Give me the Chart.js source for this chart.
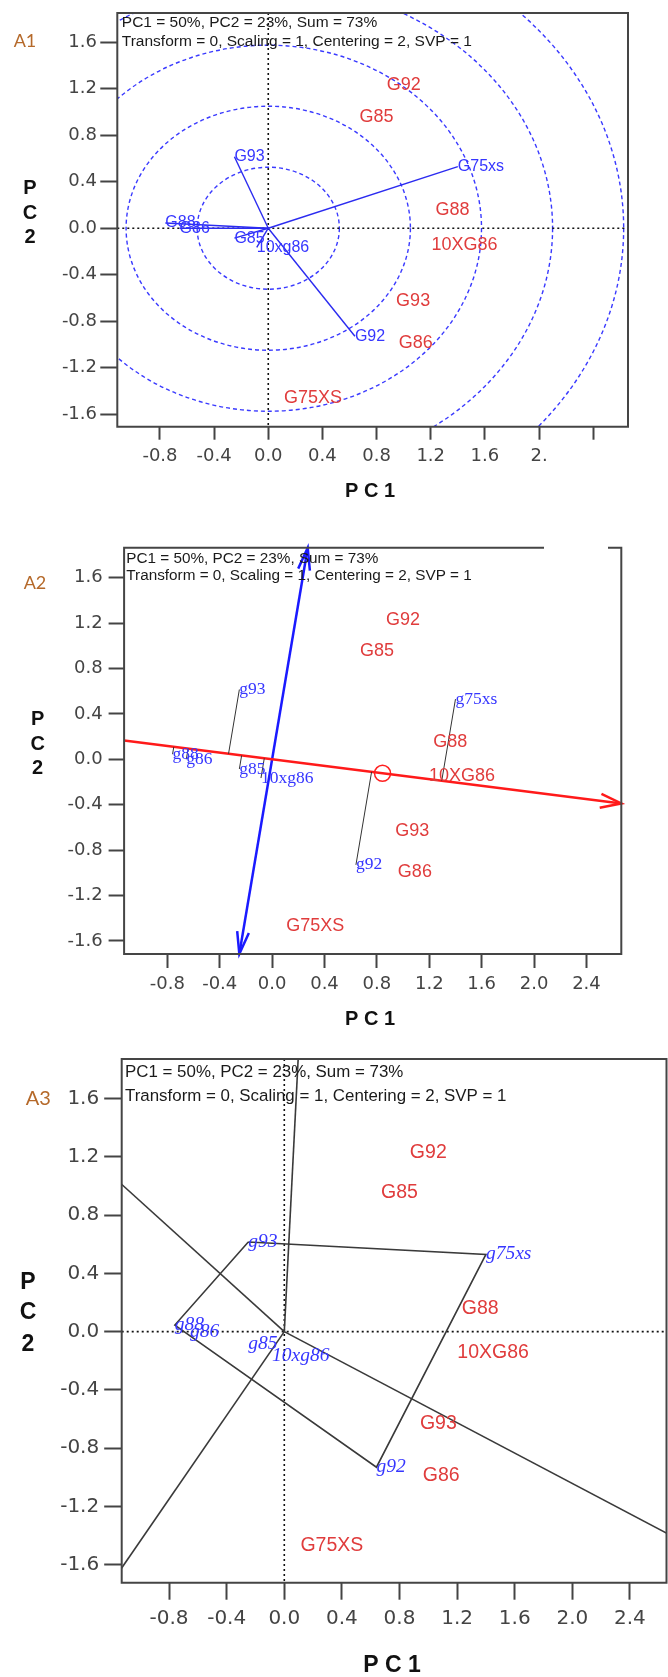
<!DOCTYPE html>
<html><head><meta charset="utf-8">
<script src="https://cdn.jsdelivr.net/npm/chart.js@4.4.0/dist/chart.umd.min.js"></script>
<style>
html,body{margin:0;padding:0;background:#fff;}
body{width:668px;height:1677px;position:relative;overflow:hidden;}
canvas{position:absolute;left:0;display:block;}
</style></head><body>
<canvas id="c1" width="668" height="520" style="top:0px"></canvas>
<canvas id="c2" width="668" height="520" style="top:520px"></canvas>
<canvas id="c3" width="668" height="637" style="top:1040px"></canvas>
<script>
// ---------- DATA ----------
const genotypes = ['G92','G85','G88','10XG86','G93','G86','G75XS'];
const genoPC1 = [1.00, 0.80, 1.36, 1.45, 1.07, 1.09, 0.33];
const genoPC2 = [1.23, 0.955, 0.155, -0.145, -0.63, -0.99, -1.465];

const envNamesA1 = ['G75xs','G93','G92','G88','G86','G85','10xg86'];
const envNames   = ['g75xs','g93','g92','g88','g86','g85','10xg86'];
const envPC1 = [1.40, -0.25, 0.64, -0.76, -0.655, -0.25, -0.085];
const envPC2 = [0.53, 0.615, -0.93, 0.045, 0.0, -0.085, -0.165];

const meanEnvPC1 = 0.843, meanEnvPC2 = -0.123;   // average environment (A2)
const circleRadii = [0.525, 1.05, 1.575, 2.10, 2.625]; // A1 concentric circles
const hullOrder = ['g93','g75xs','g92','g88'];         // A3 polygon vertices

const xTicks = [-0.8,-0.4,0,0.4,0.8,1.2,1.6,2.0,2.4];
const yTicks = [-1.6,-1.2,-0.8,-0.4,0,0.4,0.8,1.2,1.6];
const xTickLabelsA1 = ['-0.8','-0.4','0.0','0.4','0.8','1.2','1.6','2.',''];
const xTickLabels   = ['-0.8','-0.4','0.0','0.4','0.8','1.2','1.6','2.0','2.4'];
const yTickLabels   = ['-1.6','-1.2','-0.8','-0.4','0.0','0.4','0.8','1.2','1.6'];
const headerLines = ['PC1 = 50%, PC2 = 23%, Sum = 73%','Transform = 0, Scaling = 1, Centering = 2, SVP = 1'];
const pc1Title = 'P C 1';
const pc2Letters = ['P','C','2'];

// ---------- LAYOUT / STYLE ----------
const RED = '#e03c3c', BLUE = '#3636ff';
const PANELS = [
 { id:'c1', tag:'A1', height:520, area:{l:117.3,r:628,t:13,b:426.7},
   xr:[-1.115,2.657], yr:[-1.708,1.852], xLabels:xTickLabelsA1,
   tick:{font:18, ylen:17, xlen:13, ypad:3.3, xpad:6},
   txt:{head:15.5, hdx:4.5, hdy:[9.7,28.7], tagX:25, tagY:41, tagSize:18, pc2X:30, pc2Y:[188,213,237], title:20, pc1X:370, pc1Y:491.7},
   genoFont:'18px "Liberation Sans"', envFont:'16px "Liberation Sans"', envLabels:envNamesA1 },
 { id:'c2', tag:'A2', height:520, area:{l:124.1,r:621.3,t:27.7,b:434},
   xr:[-1.13,2.666], yr:[-1.715,1.864], xLabels:xTickLabels,
   tick:{font:18, ylen:15.5, xlen:14, ypad:6, xpad:6},
   txt:{head:15.3, hdx:2.2, hdy:[10.6,28.3], tagX:35, tagY:63, tagSize:18, pc2X:37.6, pc2Y:[199,224,248], title:20, pc1X:370, pc1Y:499.3},
   genoFont:'18px "Liberation Sans"', envFont:'17.5px "Liberation Serif"', envLabels:envNames, gap:[77.3,13.3] },
 { id:'c3', tag:'A3', height:637, area:{l:121.7,r:666.5,t:19,b:542.7},
   xr:[-1.129,2.654], yr:[-1.722,1.870], xLabels:xTickLabels,
   tick:{font:20, ylen:17.5, xlen:17, ypad:5, xpad:7},
   txt:{head:16.9, hdx:3.3, hdy:[13.3,37], tagX:38.3, tagY:59, tagSize:20, pc2X:28, pc2Y:[243,273,305], title:23, pc1X:392, pc1Y:626},
   genoFont:'19.5px "Liberation Sans"', envFont:'italic 19.5px "Liberation Serif"', envLabels:envNames }
];

function scalesFor(p){
  const fit = isX => s => {
    if (isX) s.height = p.height - p.area.b; else s.width = p.area.l;
    s.paddingLeft = 0; s.paddingRight = 0; s.paddingTop = 0; s.paddingBottom = 0;
  };
  const tf = {family:'DejaVu Sans', size:p.tick.font};
  return {
    x:{type:'linear', position:'bottom', min:p.xr[0], max:p.xr[1],
       afterBuildTicks:s=>{s.ticks = xTicks.map(v=>({value:v}));},
       afterFit:fit(true),
       ticks:{callback:(v,i)=>p.xLabels[i], font:tf, color:'#444', padding:p.tick.xpad, maxRotation:0, minRotation:0, autoSkip:false},
       grid:{drawOnChartArea:false, drawTicks:true, tickLength:p.tick.xlen, tickWidth:2, tickColor:'#444', color:'#444'},
       border:{display:false}},
    y:{type:'linear', position:'left', min:p.yr[0], max:p.yr[1],
       afterBuildTicks:s=>{s.ticks = yTicks.map(v=>({value:v}));},
       afterFit:fit(false),
       ticks:{callback:(v,i)=>yTickLabels[i], font:tf, color:'#444', padding:p.tick.ypad, autoSkip:false},
       grid:{drawOnChartArea:false, drawTicks:true, tickLength:p.tick.ylen, tickWidth:2, tickColor:'#444', color:'#444'},
       border:{display:false}}
  };
}

function pluginsFor(p, opts){
  return [
   { id:'underlay', beforeDatasetsDraw(chart){
       const ctx = chart.ctx, a = chart.chartArea, xs = chart.scales.x, ys = chart.scales.y;
       ctx.save();
       ctx.beginPath(); ctx.rect(a.left, a.top, a.right-a.left, a.bottom-a.top); ctx.clip();
       if (opts.circles){
         const cx = xs.getPixelForValue(0), cy = ys.getPixelForValue(0);
         ctx.strokeStyle = '#3a3aff'; ctx.lineWidth = 1.4; ctx.setLineDash([4,3]);
         circleRadii.forEach(r=>{
           const rx = xs.getPixelForValue(r)-cx, ry = cy-ys.getPixelForValue(r);
           ctx.beginPath(); ctx.ellipse(cx, cy, rx, ry, 0, 0, Math.PI*2); ctx.stroke();
         });
       }
       if (opts.zeroLines){
         const x0 = xs.getPixelForValue(0), y0 = ys.getPixelForValue(0);
         ctx.strokeStyle = '#111'; ctx.lineWidth = 1.6; ctx.setLineDash([2,3]);
         ctx.beginPath(); ctx.moveTo(x0, a.top); ctx.lineTo(x0, a.bottom);
         ctx.moveTo(a.left, y0); ctx.lineTo(a.right, y0); ctx.stroke();
       }
       ctx.restore();
   }},
   { id:'overlay', afterDatasetsDraw(chart){
       const ctx = chart.ctx, a = chart.chartArea;
       ctx.save();
       // arrowheads
       chart.data.datasets.forEach((ds,i)=>{
         if(!ds.arrows) return;
         const pts = chart.getDatasetMeta(i).data, s = pts[0], e = pts[pts.length-1];
         ds.arrows.forEach(end=>{
           const tip = end==='end'?e:s, from = end==='end'?s:e;
           const th = Math.atan2(tip.y-from.y, tip.x-from.x), L = ds.arrowLen, ph = ds.arrowAngle;
           ctx.strokeStyle = ds.borderColor; ctx.lineWidth = ds.borderWidth; ctx.setLineDash([]);
           ctx.beginPath();
           ctx.moveTo(tip.x - L*Math.cos(th-ph), tip.y - L*Math.sin(th-ph));
           ctx.lineTo(tip.x, tip.y);
           ctx.lineTo(tip.x - L*Math.cos(th+ph), tip.y - L*Math.sin(th+ph));
           ctx.stroke();
         });
       });
       // point labels
       chart.data.datasets.forEach((ds,i)=>{
         if(!ds.labelText) return;
         const meta = chart.getDatasetMeta(i);
         ctx.font = ds.labelFont; ctx.fillStyle = ds.labelColor; ctx.textAlign = ds.labelAlign; ctx.textBaseline = 'middle';
         meta.data.forEach((el,j)=>ctx.fillText(ds.labelText[j], el.x, el.y));
       });
       // frame
       ctx.strokeStyle = '#454545'; ctx.lineWidth = 2; ctx.setLineDash([]);
       ctx.beginPath();
       if (p.gap){
         ctx.moveTo(a.right - p.gap[1], a.top); ctx.lineTo(a.right, a.top); ctx.lineTo(a.right, a.bottom);
         ctx.lineTo(a.left, a.bottom); ctx.lineTo(a.left, a.top); ctx.lineTo(a.right - p.gap[0], a.top);
       } else { ctx.rect(a.left, a.top, a.right-a.left, a.bottom-a.top); }
       ctx.stroke();
       ctx.restore();
   }},
   { id:'panelText', afterDraw(chart){
       const ctx = chart.ctx, a = chart.chartArea, t = p.txt;
       ctx.save();
       ctx.textBaseline = 'middle'; ctx.textAlign = 'left'; ctx.fillStyle = '#1a1a1a';
       ctx.font = t.head + 'px "Liberation Sans"';
       headerLines.forEach((s,i)=>ctx.fillText(s, a.left + t.hdx, a.top + t.hdy[i]));
       ctx.textAlign = 'center';
       ctx.fillStyle = '#b5692a'; ctx.font = t.tagSize + 'px Lato';
       ctx.fillText(p.tag, t.tagX, t.tagY);
       ctx.fillStyle = '#111'; ctx.font = 'bold ' + t.title + 'px "Liberation Sans"';
       pc2Letters.forEach((s,i)=>ctx.fillText(s, t.pc2X, t.pc2Y[i]));
       ctx.fillText(pc1Title, t.pc1X, t.pc1Y);
       ctx.restore();
   }}
  ];
}

function labelSet(xs, ys, labels, font, color, align){
  return {data: xs.map((x,i)=>({x, y:ys[i]})), pointRadius:0, showLine:false,
          labelText:labels, labelFont:font, labelColor:color, labelAlign:align};
}
function seg(pts, color, width, extra){
  return Object.assign({data:pts, showLine:true, borderColor:color, borderWidth:width, pointRadius:0, fill:false, tension:0}, extra||{});
}

function makeChart(p, datasets, opts){
  const a = p.area;
  return new Chart(document.getElementById(p.id), {
    type:'scatter',
    data:{datasets},
    options:{
      responsive:false, animation:false, devicePixelRatio:1, events:[],
      layout:{padding:{left:0, right:668 - a.r, top:a.t, bottom:0}},
      plugins:{legend:{display:false}, tooltip:{enabled:false}},
      scales:scalesFor(p)
    },
    plugins:pluginsFor(p, opts)
  });
}

// ---------- A1 : vector view ----------
(function(){
  const p = PANELS[0];
  const ds = envPC1.map((x,i)=>seg([{x:0,y:0},{x, y:envPC2[i]}], '#2b2bf0', 1.4));
  ds.push(labelSet(envPC1, envPC2, p.envLabels, p.envFont, BLUE, 'left'));
  ds.push(labelSet(genoPC1, genoPC2, genotypes, p.genoFont, RED, 'center'));
  makeChart(p, ds, {circles:true, zeroLines:true});
})();

// ---------- A2 : average environment coordination ----------
(function(){
  const p = PANELS[1];
  const mx = meanEnvPC1, my = meanEnvPC2, dd = mx*mx + my*my;
  const ds = envPC1.map((x,i)=>{
    const y = envPC2[i], t = (x*mx + y*my)/dd;
    return seg([{x,y},{x:t*mx, y:t*my}], '#333', 1);
  });
  const slope = my/mx, k = -my/mx;
  ds.push(seg([{x:p.xr[0], y:slope*p.xr[0]},{x:p.xr[1], y:slope*p.xr[1]}], '#ff1a1a', 2.5, {arrows:['end'], arrowLen:22, arrowAngle:0.32}));
  ds.push(seg([{x:k*p.yr[0], y:p.yr[0]},{x:k*p.yr[1], y:p.yr[1]}], '#1a1aff', 2.5, {arrows:['start','end'], arrowLen:23, arrowAngle:0.26}));
  ds.push({data:[{x:mx, y:my}], pointRadius:8, pointStyle:'circle', pointBorderColor:'#ff2020', pointBackgroundColor:'rgba(0,0,0,0)', pointBorderWidth:1.5, showLine:false});
  ds.push(labelSet(envPC1, envPC2, p.envLabels, p.envFont, BLUE, 'left'));
  ds.push(labelSet(genoPC1, genoPC2, genotypes, p.genoFont, RED, 'center'));
  makeChart(p, ds, {circles:false, zeroLines:false});
})();

// ---------- A3 : which-won-where polygon ----------
(function(){
  const p = PANELS[2];
  const hull = hullOrder.map(n=>envNames.indexOf(n)).map(i=>({x:envPC1[i], y:envPC2[i]}));
  const ds = [seg(hull.concat([hull[0]]), '#3a3a3a', 1.6)];
  hull.forEach((a,k)=>{
    const b = hull[(k+1)%hull.length];
    let nx = b.y - a.y, ny = -(b.x - a.x);
    if (nx*a.x + ny*a.y < 0){ nx = -nx; ny = -ny; }
    const L = 10/Math.hypot(nx, ny);
    ds.push(seg([{x:0,y:0},{x:nx*L, y:ny*L}], '#3a3a3a', 1.6));
  });
  ds.push(labelSet(envPC1, envPC2, p.envLabels, p.envFont, BLUE, 'left'));
  ds.push(labelSet(genoPC1, genoPC2, genotypes, p.genoFont, RED, 'center'));
  makeChart(p, ds, {circles:false, zeroLines:true});
})();
</script>
</body></html>
